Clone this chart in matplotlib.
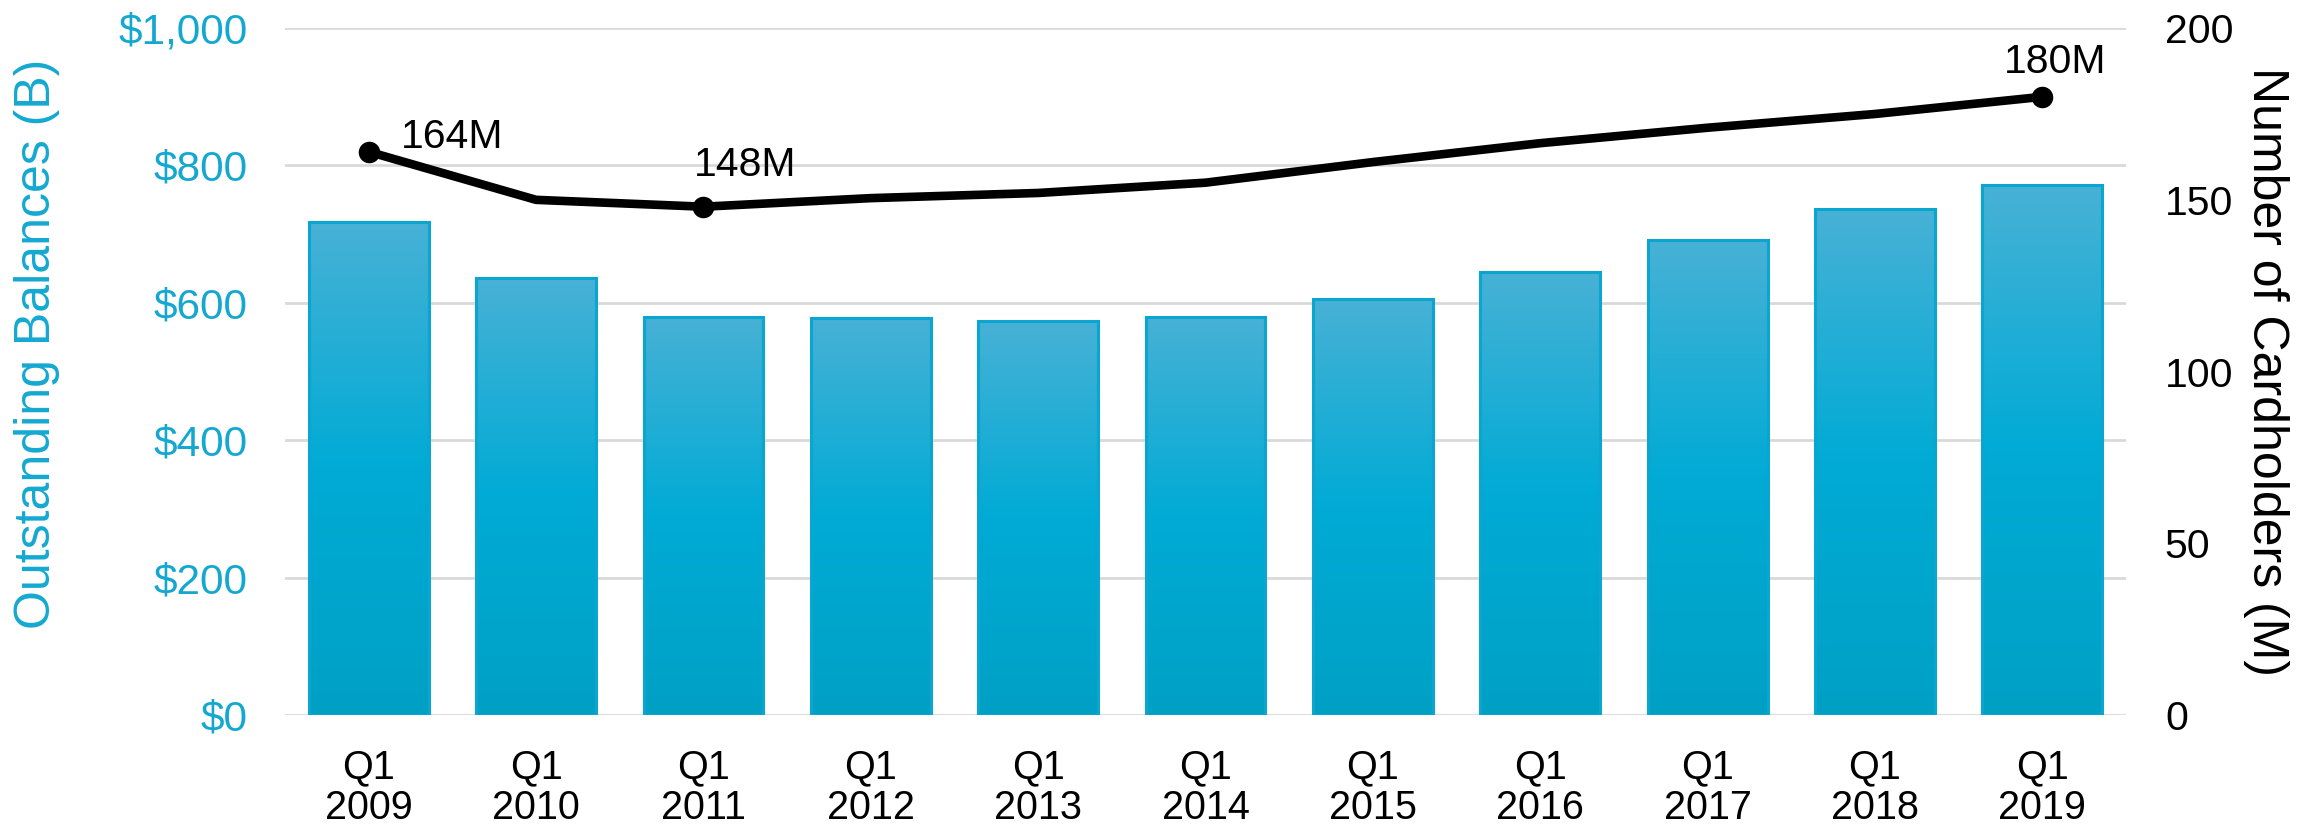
import numpy as np
import matplotlib
matplotlib.use("Agg")
import matplotlib.pyplot as plt
from matplotlib.colors import LinearSegmentedColormap
from matplotlib.ticker import FuncFormatter, MultipleLocator

# data
quarters = ["Q1\n2009", "Q1\n2010", "Q1\n2011", "Q1\n2012", "Q1\n2013", "Q1\n2014",
            "Q1\n2015", "Q1\n2016", "Q1\n2017", "Q1\n2018", "Q1\n2019"]
balances = [718, 636, 580, 578, 574, 580, 605, 645, 691, 737, 771]   # $B
cardholders = [164, 150, 148, 150.5, 152, 155, 161, 166.5, 171, 175, 180]  # M
labeled = {0: "164M", 2: "148M", 10: "180M"}

cyan = "#14a8d1"
plt.rcParams["font.family"] = ["Liberation Sans", "DejaVu Sans"]

fig = plt.figure(figsize=(23.23, 8.27), dpi=100)
ax = fig.add_axes([0.1227, 0.1354, 0.9152 - 0.1227, 0.966 - 0.1354])

x = np.arange(len(quarters))
bars = ax.bar(x, balances, width=0.716, color="none", edgecolor="#0aa6cf",
              linewidth=2.2, zorder=3)

# per-bar vertical gradient, lighter at the top
grad = LinearSegmentedColormap.from_list("g", ["#00a0c5", "#00abd5", "#48b1d6"])
g = np.linspace(0, 1, 256).reshape(-1, 1)
for b in bars:
    x0, y0 = b.get_x(), b.get_y()
    im = ax.imshow(g, cmap=grad, origin="lower", aspect="auto", zorder=2,
                   extent=(x0, x0 + b.get_width(), y0, y0 + b.get_height()))
    im.set_clip_path(b)

ax.set_xlim(-0.5, len(quarters) - 0.5)
ax.set_ylim(0, 1000)
ax.yaxis.set_major_locator(MultipleLocator(200))
ax.yaxis.set_major_formatter(FuncFormatter(lambda v, p: f"${v:,.0f}"))
ax.grid(axis="y", color="#d9d9d9", linewidth=2, zorder=0)
ax.set_axisbelow(True)
for s in ax.spines.values():
    s.set_visible(False)
ax.set_xticks(x)
ax.set_xticklabels(quarters, fontsize=28.5, linespacing=1.1)
ax.tick_params(axis="x", length=0, pad=24)
ax.tick_params(axis="y", length=0, pad=27, labelsize=30.5, labelcolor=cyan)
ax.set_ylabel("Outstanding Balances (B)", color=cyan, fontsize=36,
              family=["Liberation Sans Narrow", "Liberation Sans"])
ax.yaxis.set_label_coords(-0.122, 0.54)

ax2 = ax.twinx()
ax2.plot(x, cardholders, color="black", linewidth=6.2, zorder=5)
mk = list(labeled.keys())
ax2.plot(x[mk], [cardholders[i] for i in mk], "o", color="black", markersize=14.5, zorder=6)
ax2.set_ylim(0, 200)
ax2.yaxis.set_major_locator(MultipleLocator(50))
for s in ax2.spines.values():
    s.set_visible(False)
ax2.tick_params(axis="y", length=0, pad=28, labelsize=29.5)
ax2.set_ylabel("Number of Cardholders (M)", fontsize=36, rotation=270,
               family=["Liberation Sans Narrow", "Liberation Sans"], labelpad=40)

offsets = {0: (23, 3), 2: (-7, 22), 10: (9, 17)}
for i, txt in labeled.items():
    ax2.annotate(txt, (x[i], cardholders[i]), xytext=offsets[i], textcoords="offset points",
                 fontsize=29.5, ha="left" if i != 10 else "center", va="baseline")

fig.savefig("out.png", dpi=100)
